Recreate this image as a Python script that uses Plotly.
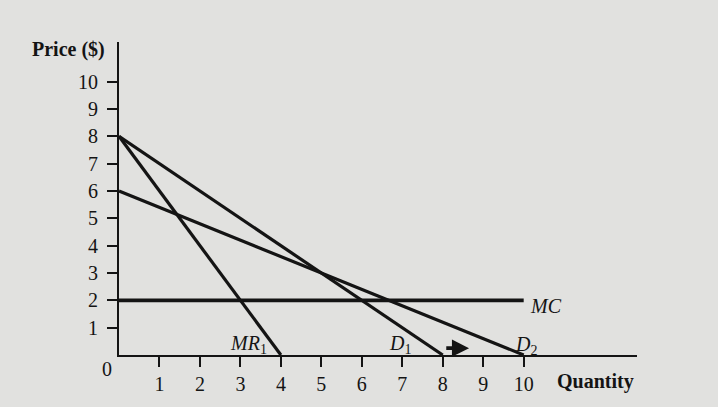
import plotly.graph_objects as go

# Data
d1_q = [0, 8]
d1_p = [8, 0]
mr1_q = [0, 4]
mr1_p = [8, 0]
d2_q = [0, 10]
d2_p = [6, 0]
mc_q = [0, 10]
mc_p = [2, 2]
x_ticks = [1, 2, 3, 4, 5, 6, 7, 8, 9, 10]
y_ticks = [1, 2, 3, 4, 5, 6, 7, 8, 9, 10]

BG = "#e1e1df"
INK = "#141414"
SERIF = "Liberation Serif, Times New Roman, serif"

fig = go.Figure()
for q, p, w in [(mr1_q, mr1_p, 3.2), (d1_q, d1_p, 3.2), (d2_q, d2_p, 3.2), (mc_q, mc_p, 3.6)]:
    fig.add_trace(go.Scatter(x=q, y=p, mode="lines", line=dict(color=INK, width=w),
                             hoverinfo="skip", showlegend=False, cliponaxis=False))

annotations = [
    dict(x=3.2, y=0.38, text="<i>MR</i><sub>1</sub>"),
    dict(x=6.95, y=0.38, text="<i>D</i><sub>1</sub>"),
    dict(x=10.05, y=0.36, text="<i>D</i><sub>2</sub>"),
    dict(x=10.55, y=1.8, text="<i>MC</i>"),
]
for a in annotations:
    fig.add_annotation(x=a["x"], y=a["y"], text=a["text"], showarrow=False,
                       xref="x", yref="y", xanchor="center", yanchor="middle",
                       font=dict(family=SERIF, size=20, color=INK))

# shift arrow
fig.add_annotation(x=8.65, y=0.25, ax=8.05, ay=0.25, xref="x", yref="y",
                   axref="x", ayref="y", text="", showarrow=True,
                   arrowhead=2, arrowsize=0.9, arrowwidth=3.8, arrowcolor=INK)

# origin label and axis titles (paper coords so they sit outside the axes)
for x, y, txt, size in [(-0.023, -0.044, "0", 20),
                        (-0.098, 0.975, "<b>Price ($)</b>", 20),
                        (0.919, -0.085, "<b>Quantity</b>", 20)]:
    fig.add_annotation(x=x, y=y, xref="paper", yref="paper", text=txt,
                       xanchor="center", yanchor="middle", showarrow=False,
                       font=dict(family=SERIF, size=size, color=INK))

fig.update_xaxes(range=[0, 12.8], showgrid=False, zeroline=False, showline=True,
                 linecolor=INK, linewidth=2, ticks="outside", ticklen=10, tickwidth=1.5,
                 tickcolor=INK, tickvals=x_ticks, ticktext=[str(v) for v in x_ticks],
                 tickfont=dict(family=SERIF, size=20, color=INK))
fig.update_yaxes(range=[0, 11.45], showgrid=False, zeroline=False, showline=True,
                 linecolor=INK, linewidth=2, ticks="outside", ticklen=10, tickwidth=1.5,
                 tickcolor=INK, tickvals=y_ticks, ticktext=[str(v) for v in y_ticks],
                 tickfont=dict(family=SERIF, size=20, color=INK), ticklabelstandoff=5)

fig.update_layout(width=718, height=407, margin=dict(l=119, r=81, t=42, b=48),
                  paper_bgcolor=BG, plot_bgcolor=BG)

fig.write_html("out.html", config={"displayModeBar": False},
               post_script="document.body.style.margin='0';document.body.style.background='%s';" % BG)
